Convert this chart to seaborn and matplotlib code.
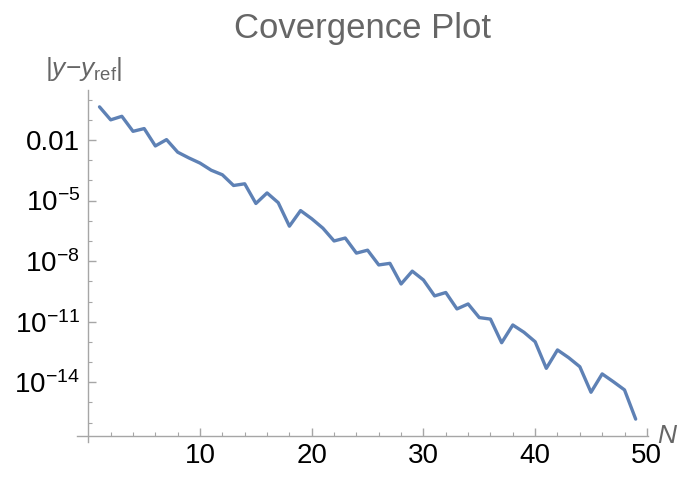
import numpy as np
import pandas as pd
import matplotlib
matplotlib.use("Agg")
import matplotlib.pyplot as plt
import matplotlib.ticker as mticker
import seaborn as sns

# ---------------------------------------------------------------------------
# Data
# ---------------------------------------------------------------------------
n_terms = list(range(1, 50))
abs_error = [
    4.4e-1, 1.0e-1, 1.5e-1, 2.7e-2, 3.7e-2, 5.1e-3, 1.05e-2, 2.5e-3, 1.3e-3, 7.2e-4,
    3.2e-4, 1.9e-4, 5.6e-5, 6.8e-5, 7.2e-6, 2.4e-5, 7.9e-6, 5.4e-7, 3.2e-6, 1.26e-6,
    4.3e-7, 1.0e-7, 1.4e-7, 2.5e-8, 3.5e-8, 6.5e-9, 7.8e-9, 7.4e-10, 3.2e-9, 1.17e-9,
    1.9e-10, 2.8e-10, 4.3e-11, 7.6e-11, 1.6e-11, 1.35e-11, 9.1e-13, 6.9e-12, 3.0e-12, 1.02e-12,
    4.9e-14, 4.0e-13, 1.66e-13, 5.9e-14, 3.2e-15, 2.6e-14, 1.07e-14, 4.2e-15, 1.5e-16,
]

y_major = [1e-2, 1e-5, 1e-8, 1e-11, 1e-14]
y_major_labels = ["0.01", r"$10^{-5}$", r"$10^{-8}$", r"$10^{-11}$", r"$10^{-14}$"]
y_minor = [10.0 ** k for k in range(0, -17, -1)]
x_major = [10, 20, 30, 40, 50]
x_minor = list(range(2, 50, 2))

df = pd.DataFrame({"N": n_terms, "err": abs_error})

# ---------------------------------------------------------------------------
# Style
# ---------------------------------------------------------------------------
sns.set_style("white")
plt.rcParams["font.family"] = ["Liberation Sans", "DejaVu Sans"]
plt.rcParams["mathtext.fontset"] = "custom"
plt.rcParams["mathtext.rm"] = "Liberation Sans"
plt.rcParams["mathtext.it"] = "Liberation Sans:italic"

AXIS_GRAY = "#a6a6a6"
LABEL_GRAY = "#666666"
LINE_BLUE = "#5e81b5"

fig = plt.figure(figsize=(6.85, 4.79), dpi=100)
ax = fig.add_axes([0.112, 0.078, 0.8336, 0.734])

sns.lineplot(data=df, x="N", y="err", ax=ax, color=LINE_BLUE, lw=2.4)

ax.set_yscale("log")
ax.set_xlim(-1.04, 50.08)
ax.set_ylim(10 ** -16.94, 10 ** 0.476)

# Mathematica-style crossing axes
for side in ["top", "right"]:
    ax.spines[side].set_visible(False)
ax.spines["left"].set_position(("data", 0))
ax.spines["bottom"].set_position(("data", 10 ** -16.66))
for side in ["left", "bottom"]:
    ax.spines[side].set_color(AXIS_GRAY)
    ax.spines[side].set_linewidth(1.0)

ax.yaxis.set_major_locator(mticker.FixedLocator(y_major))
ax.yaxis.set_major_formatter(mticker.FixedFormatter(y_major_labels))
ax.yaxis.set_minor_locator(mticker.FixedLocator(y_minor))
ax.yaxis.set_minor_formatter(mticker.NullFormatter())
ax.xaxis.set_major_locator(mticker.FixedLocator(x_major))
ax.xaxis.set_minor_locator(mticker.FixedLocator(x_minor))

ax.tick_params(which="both", direction="in", color=AXIS_GRAY, labelsize=20,
               labelcolor="black", bottom=True, left=True, top=False, right=False)
ax.tick_params(which="major", length=5.5, width=1.0)
ax.tick_params(which="minor", length=3.0, width=0.8)
ax.tick_params(axis="y", which="both", pad=6)
ax.tick_params(axis="x", which="both", pad=5)

ax.set_xlabel("")
ax.set_ylabel("")

# labels
fig.text(363 / 685, 1 - 38 / 479, "Covergence Plot", ha="center", va="baseline",
         fontsize=25, color=LABEL_GRAY)
fig.text(45 / 685, 1 - 76 / 479, r"|$\mathit{y}$$-$$\mathit{y}_{\mathrm{ref}}$|",
         ha="left", va="baseline", fontsize=19, color=LABEL_GRAY)
fig.text(657 / 685, 1 - 443 / 479, "N", ha="left", va="baseline",
         fontsize=19, color=LABEL_GRAY, style="italic")

fig.savefig("out.png", dpi=100)
plt.close(fig)
